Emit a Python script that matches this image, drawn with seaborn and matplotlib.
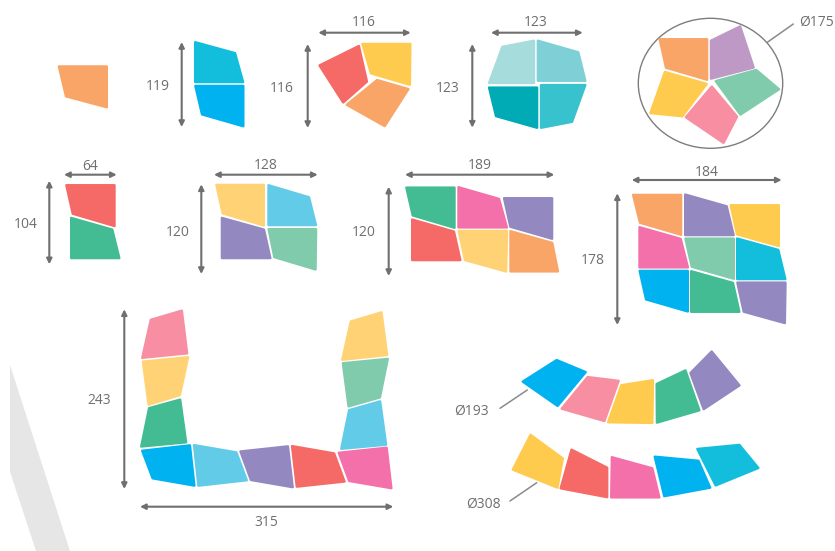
"""
    Packing diagrams: coloured quad tiles with their overall dimensions.
    All coordinates are read off the reference, in pixels (y pointing down).
"""
import seaborn as sns
import matplotlib.pyplot as plt
from matplotlib.patches import Ellipse

ORANGE, TEAL, BLUE, RED, YELLOW = "#F9A568", "#13BEDD", "#00B2F0", "#F56A66", "#FFCB4E"
TEAL1, TEAL2, TEAL3, TEAL4 = "#A6DCDC", "#7FCFD6", "#00ABB5", "#37C2CD"
LILAC, MINT, ROSE, SAND = "#BE99C6", "#80CBAC", "#F78EA1", "#FFD375"
SKY, PURPLE, GREEN, PINK = "#62CBE8", "#9389C0", "#43BC93", "#F370AA"
TXT = "#6f6f6f"

# tiles, one block per drawing
single_tiles = [[(57.5, 65.5), (108, 65.5), (108, 108.5), (65, 97)]]
single_colors = [ORANGE]

pair_tiles = [[(194, 41), (236, 52.5), (244.5, 83), (194, 83)],
              [(194, 85), (244.5, 85), (244.5, 127.5), (201, 115)]]
pair_colors = [TEAL, BLUE]

three_tiles = [[(318, 65), (359.5, 44.5), (368, 82), (343, 104)],
               [(361, 43), (411.5, 43), (411, 86), (370, 74)],
               [(377, 79), (410, 88.5), (385, 127.5), (345, 105)]]
three_colors = [RED, YELLOW, ORANGE]

four_tiles = [[(501.7, 46), (535, 39.5), (535, 84), (487.7, 84)],
              [(536.7, 39.5), (579.3, 51.7), (586.7, 81.7), (536.7, 81.7)],
              [(487.7, 86.7), (538.3, 86.7), (538.3, 129), (495, 116.7)],
              [(540, 84), (586.7, 84), (572.7, 122.7), (540, 129)]]
four_colors = [TEAL1, TEAL2, TEAL3, TEAL4]

star_tiles = [[(658.3, 38.3), (708.3, 38.3), (708.3, 81), (665, 68.3)],
              [(710, 40), (740.7, 25), (755, 68.3), (710, 80)],
              [(714, 80.7), (756.7, 69), (780.7, 89.3), (740, 116)],
              [(711.7, 85), (738.3, 116.7), (724, 144.3), (684.3, 117.3)],
              [(664.3, 70.7), (708.3, 83.3), (682.7, 117.3), (649, 114)]]
star_colors = [ORANGE, LILAC, MINT, ROSE, YELLOW]

stack_tiles = [[(65, 184.3), (115.7, 184.3), (115.7, 227.3), (71.7, 214.3)],
               [(70, 216.7), (113.3, 229), (120.7, 259), (70, 259)]]
stack_colors = [RED, GREEN]

block_tiles = [[(215, 184), (265, 184), (265, 226.7), (221.7, 214)],
               [(267.3, 184), (310, 196.7), (317.3, 226), (267.3, 226)],
               [(220.7, 216.7), (265, 229), (271.7, 259), (220.7, 259)],
               [(267.3, 228.3), (317.3, 228.3), (316.7, 270.7), (273.3, 257.7)]]
block_colors = [SAND, SKY, PURPLE, MINT]

six_tiles = [[(405, 186.7), (455.7, 186.7), (455.7, 229), (411.7, 216)],
             [(457.3, 186), (500, 198.3), (508.3, 228.3), (457.3, 228.3)],
             [(502.7, 197.3), (553.3, 197.3), (553.3, 240), (509.3, 227.3)],
             [(411, 218.3), (455, 231), (461.7, 261), (411, 261)],
             [(457.3, 230), (508.3, 230), (507.3, 272.7), (464, 260.7)],
             [(509.3, 230), (553.3, 242.3), (559.3, 272.3), (509.3, 272.3)]]
six_colors = [GREEN, PINK, PURPLE, RED, SAND, ORANGE]

nine_tiles = [[(631.7, 194), (682.3, 194), (682.3, 236), (639, 223.3)],
              [(684, 193.3), (727.7, 205.7), (735, 236), (684, 236)],
              [(729.3, 204.3), (780, 204.3), (780, 247.3), (736, 235)],
              [(638.3, 226), (681.7, 238.3), (689.3, 268.3), (638.3, 268.3)],
              [(684, 237.7), (735, 237.7), (735, 280), (690.7, 267.3)],
              [(736, 237.3), (779.3, 249.3), (786.7, 280), (736, 280)],
              [(638.3, 270), (689, 270), (689, 312.7), (645, 300)],
              [(690, 270), (734, 282.3), (740.7, 312.7), (690, 312.7)],
              [(736, 281.7), (786.7, 281.7), (786, 324.3), (742.7, 312.3)]]
nine_colors = [ORANGE, PURPLE, YELLOW, PINK, MINT, TEAL, BLUE, GREEN, PURPLE]

u_tiles = [[(150, 319), (182.7, 309.3), (188.3, 354.3), (141, 359)],
           [(141.7, 360.7), (189.3, 356), (180.7, 396), (147.7, 406)],
           [(148.3, 407.3), (181, 398.3), (187.3, 443.3), (140, 447.7)],
           [(140.7, 450), (191, 444.3), (195.7, 486.7), (151.7, 479)],
           [(192.7, 444), (237.3, 451.7), (248.3, 481), (197.3, 486.7)],
           [(239, 450.7), (289, 445.3), (294, 488.3), (250, 480.7)],
           [(290.7, 445), (335, 452.7), (346, 482.3), (295.7, 487.7)],
           [(337.3, 452), (387.7, 446.7), (392.7, 489.3), (348.3, 481.7)],
           [(348.3, 409.3), (381, 400), (387.3, 445.7), (340, 450)],
           [(341.7, 362.3), (389, 357.7), (380.7, 398.3), (347.7, 407.7)],
           [(350, 320.7), (382.3, 311), (388.3, 356), (341, 361)]]
u_colors = [ROSE, SAND, GREEN, BLUE, SKY, PURPLE, RED, PINK, SKY, MINT, SAND]

arc_tiles = [[(521, 381.7), (556.7, 359), (587.3, 371.7), (557.7, 407.3)],
             [(560, 409.3), (587.3, 376), (620, 380), (605, 422.3)],
             [(606.7, 423.3), (620.7, 384.3), (654, 379), (653.3, 424)],
             [(655.7, 383.3), (686, 369), (700.7, 411), (656, 424)],
             [(689.3, 372.7), (711.7, 350), (741, 385.7), (703.3, 410.7)]]
arc_colors = [BLUE, ROSE, YELLOW, GREEN, PURPLE]

wide_arc_tiles = [[(511.3, 470), (530, 433.3), (564, 458.3), (558.3, 489)],
                  [(559.3, 489), (570.7, 448.3), (608.3, 467.3), (608.3, 498.3)],
                  [(610, 498.3), (610.7, 456), (653.3, 467.7), (660.7, 498.3)],
                  [(653.3, 455.7), (699.3, 460), (711.7, 488.3), (663.3, 497.3)],
                  [(695.7, 448.3), (740, 444), (760, 468.3), (715, 486.7)]]
wide_arc_colors = [YELLOW, RED, PINK, BLUE, TEAL]

# grey wedge at the lower left
wedge_points = [(10, 365), (70, 551), (36, 551), (10, 471.7)]

# dimension arrows: horizontal (x0, x1, y), vertical (x, y0, y1)
h_labels = ["116", "123", "64", "128", "189", "184", "315"]
h_spans = [(318.3, 410.7, 32.7), (491, 582.7, 32.7), (64, 116.7, 174.7), (214, 317.7, 174.7),
           (405, 554.3, 174.7), (631.7, 781.7, 180), (140, 393.3, 506.7)]
h_text_xy = [(364, 20), (536, 20), (90, 164), (266, 163.7), (480, 163.7), (707, 171), (266, 521)]

v_labels = ["119", "116", "123", "104", "120", "120", "178", "243"]
v_spans = [(181.7, 42, 127), (307.7, 44, 128), (472.3, 44, 127.7), (49.3, 180.7, 264.3),
           (201.3, 184.3, 274), (388.7, 186.7, 276), (617.3, 193.3, 325), (124.3, 309.3, 489)]
v_text_xy = [(158, 85), (282, 87), (448, 87), (26, 223), (178, 230), (364, 230), (593, 259), (99, 399)]

# diameters with their leader lines
dia_labels = ["Ø175", "Ø193", "Ø308"]
dia_text_xy = [(816, 20), (471.7, 409.3), (483.3, 502.3)]
dia_leaders_x = [[767.3, 793.3], [527.3, 500], [536.7, 510]]
dia_leaders_y = [[42.3, 24], [390, 408.3], [482.7, 501]]
circle_center = (710.5, 83.3)
circle_w, circle_h = 144.4, 130


def draw_tiles(ax, tiles, colors):
    # pull each tile in a little, the thick round-joined edge brings it back with soft corners
    for pts, col in zip(tiles, colors):
        xs, ys = zip(*pts)
        cx, cy = sum(xs) / len(xs), sum(ys) / len(ys)
        xs = [cx + (x - cx) * 0.95 for x in xs]
        ys = [cy + (y - cy) * 0.95 for y in ys]
        ax.fill(xs, ys, facecolor=col, edgecolor=col, lw=1.7, joinstyle="round", zorder=3)


sns.set_theme(style="white")
plt.rcParams["font.family"] = ["Open Sans", "DejaVu Sans"]

fig, ax = plt.subplots(figsize=(8.35, 5.51), dpi=100)
fig.subplots_adjust(0, 0, 1, 1)
ax.set_xlim(0, 835)
ax.set_ylim(551, 0)
ax.axis("off")

ax.fill(*zip(*wedge_points), color="#E6E6E6", lw=0, zorder=1)

draw_tiles(ax, single_tiles, single_colors)
draw_tiles(ax, pair_tiles, pair_colors)
draw_tiles(ax, three_tiles, three_colors)
draw_tiles(ax, four_tiles, four_colors)
draw_tiles(ax, star_tiles, star_colors)
draw_tiles(ax, stack_tiles, stack_colors)
draw_tiles(ax, block_tiles, block_colors)
draw_tiles(ax, six_tiles, six_colors)
draw_tiles(ax, nine_tiles, nine_colors)
draw_tiles(ax, u_tiles, u_colors)
draw_tiles(ax, arc_tiles, arc_colors)
draw_tiles(ax, wide_arc_tiles, wide_arc_colors)

ax.add_patch(Ellipse(circle_center, circle_w, circle_h, fill=False, ec="#7d7d7d", lw=1.0, zorder=2))

arrow = dict(arrowstyle="<|-|>", color=TXT, lw=1.5, mutation_scale=8, shrinkA=0, shrinkB=0)
for lab, (x0, x1, y), (tx, ty) in zip(h_labels, h_spans, h_text_xy):
    ax.annotate("", xy=(x0, y), xytext=(x1, y), arrowprops=arrow, zorder=4)
    ax.text(tx, ty, lab, color=TXT, fontsize=10, ha="center", va="center_baseline")
for lab, (x, y0, y1), (tx, ty) in zip(v_labels, v_spans, v_text_xy):
    ax.annotate("", xy=(x, y0), xytext=(x, y1), arrowprops=arrow, zorder=4)
    ax.text(tx, ty, lab, color=TXT, fontsize=10, ha="center", va="center_baseline")

for lab, lx, ly, (tx, ty) in zip(dia_labels, dia_leaders_x, dia_leaders_y, dia_text_xy):
    sns.lineplot(x=lx, y=ly, ax=ax, sort=False, estimator=None, color="#8a8a8a", lw=1.1)
    ax.text(tx, ty, lab, color=TXT, fontsize=10, ha="center", va="center_baseline")

fig.savefig("out.png", dpi=100, facecolor="white")
plt.close(fig)
